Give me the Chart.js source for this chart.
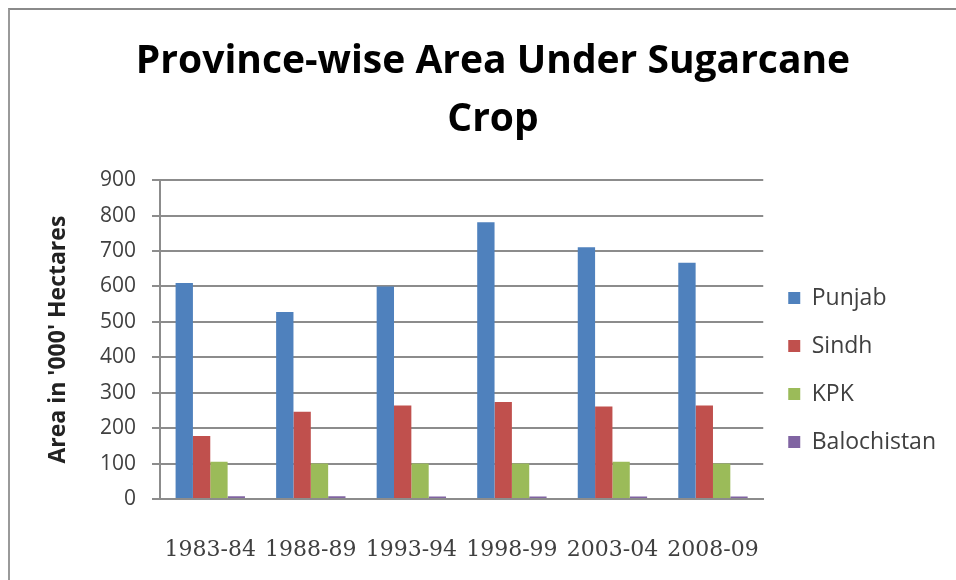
<!DOCTYPE html>
<html>
<head>
<meta charset="utf-8">
<script src="https://cdn.jsdelivr.net/npm/chart.js@4.4.1/dist/chart.umd.min.js"></script>
<style>
  html, body { margin: 0; padding: 0; background: #fff; }
  #frame { position: absolute; left: 8px; top: 8px; width: 960px; height: 590px;
           border-top: 2px solid #8a8a8a; border-left: 2px solid #9a9a9a; }
  #wrap { position: absolute; left: 0; top: 0; width: 956px; height: 580px; }
</style>
</head>
<body>
<div id="frame"></div>
<div id="wrap"><canvas id="chart"></canvas></div>
<script>
// --- données ---
const years = ['1983-84', '1988-89', '1993-94', '1998-99', '2003-04', '2008-09'];
const punjab = [610, 528, 600, 781, 711, 667];
const sindh = [178, 246, 264, 274, 261, 264];
const kpk = [105, 100, 100, 100, 105, 100];
const balochistan = [8, 8, 7, 7, 7, 7];
const yTicks = [0, 100, 200, 300, 400, 500, 600, 700, 800, 900];

const ctx = document.querySelector('#chart').getContext('2d');
new Chart(ctx, {
  type: 'bar',
  data: {
    labels: years,
    datasets: [
      { label: 'Punjab', data: punjab, backgroundColor: '#4F81BD' },
      { label: 'Sindh', data: sindh, backgroundColor: '#C0504D' },
      { label: 'KPK', data: kpk, backgroundColor: '#9BBB59' },
      { label: 'Balochistan', data: balochistan, backgroundColor: '#8064A2' }
    ]
  },
  options: {
    responsive: true,
    maintainAspectRatio: false,
    animation: false,
    layout: { padding: { left: 40, right: 10, top: 0, bottom: 0 } },
    datasets: { bar: { categoryPercentage: 0.69, barPercentage: 1 } },
    scales: {
      x: {
        grid: { display: false },
        border: { color: '#8c8c8c', width: 2 },
        ticks: { color: '#404040', font: { family: 'DejaVu Serif', size: 22 }, padding: 30, maxRotation: 0 },
        afterFit: (axis) => { axis.height = 81; }
      },
      y: {
        min: 0, max: 900,
        afterBuildTicks: (axis) => { axis.ticks = yTicks.map(v => ({ value: v })); },
        afterFit: (axis) => { axis.width = 120; },
        grid: { color: '#8c8c8c', lineWidth: 2, tickLength: 8 },
        border: { color: '#8c8c8c', width: 2 },
        ticks: { color: '#404040', font: { family: 'Open Sans', size: 21 }, padding: 16 },
        title: { display: true, text: "Area in '000' Hectares", color: '#222',
                 font: { family: 'Open Sans', size: 23, weight: 'bold' }, padding: { top: 5, bottom: 0 } }
      }
    },
    plugins: {
      title: {
        display: true,
        text: ['Province-wise Area Under Sugarcane', 'Crop'],
        color: '#000',
        font: { family: 'Open Sans', size: 39, weight: 'bold', lineHeight: 1.49 },
        padding: { top: 33, bottom: 31 }
      },
      legend: {
        position: 'right',
        // titre vide : sert seulement à descendre la légende
        title: { display: true, text: '', font: { size: 10 }, padding: { top: 0, bottom: 148 } },
        labels: { color: '#404040', font: { family: 'Open Sans', size: 23 }, boxWidth: 12, boxHeight: 12, padding: 25 }
      },
      tooltip: { enabled: false }
    }
  }
});
</script>
</body>
</html>
